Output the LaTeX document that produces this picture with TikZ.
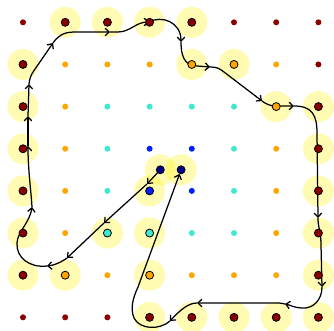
\documentclass[tikz,border=0pt]{standalone}
\usetikzlibrary{arrows.meta}
\definecolor{dred}{RGB}{139,0,0}
\definecolor{dorange}{RGB}{255,165,0}
\definecolor{turq}{RGB}{64,232,208}
\definecolor{dblue}{RGB}{0,30,255}
\definecolor{navyc}{RGB}{0,0,139}
\pgfdeclarelayer{halolayer}
\pgfdeclarelayer{traillayer}
\pgfsetlayers{halolayer,traillayer,main}
\newcommand\mysetcol[2]{\pgfmathtruncatemacro\rr{min(#1,7-#1,#2,7-#2)}\ifcase\rr\def\col{dred}\or\def\col{dorange}\or\def\col{turq}\or\def\col{dblue}\fi}
\begin{document}
\begin{tikzpicture}[x=1pt,y=-1pt,
  halo/.style={circle,fill=yellow,fill opacity=0.3,minimum size=31pt,inner sep=0pt},
  smalldot/.style={circle,fill=#1,minimum size=6pt,inner sep=0pt},
  bigdot/.style={circle,fill=#1,draw=black,line width=0.8pt,minimum size=8pt,inner sep=0pt},
  trail/.style={line width=1.25pt,line cap=round,line join=round,-{Straight Barb[length=4pt,width=7.5pt]}}
]
\useasboundingbox (0,0) rectangle (334,331);
% highlighted grid points
\foreach \i/\j in {1/0,2/0,3/0,4/0,0/1,4/1,5/1,0/2,6/2,7/2,0/3,7/3,0/4,3/4,7/4,0/5,2/5,3/5,7/5,0/6,1/6,3/6,7/6,3/7,4/7,5/7,6/7,7/7}{
  \mysetcol{\i}{\j}
  \node[bigdot=\col] (d\i\j) at (23+42.2*\i,22.3+42.15*\j) {};
}
\node[bigdot=navyc] (s) at (160.3,169.8) {};
\node[bigdot=navyc] (e) at (181.1,169.8) {};
\begin{pgfonlayer}{halolayer}
\foreach \i/\j in {1/0,2/0,3/0,4/0,0/1,4/1,5/1,0/2,6/2,7/2,0/3,7/3,0/4,3/4,7/4,0/5,2/5,3/5,7/5,0/6,1/6,3/6,7/6,3/7,4/7,5/7,6/7,7/7}{
  \node[halo] (h\i\j) at (d\i\j.center) {};
}
\node[halo] (hs) at (s.center) {};
\node[halo] (he) at (e.center) {};
\foreach \i in {0,...,7}{
  \foreach \j in {0,...,7}{
    \mysetcol{\i}{\j}
    \node[smalldot=\col] (g\i\j) at (23+42.2*\i,22.3+42.15*\j) {};
  }
}
\end{pgfonlayer}
% path
\coordinate (a1) at (147,184);
\coordinate (a2) at (104,223);
\coordinate (a3) at (67,258);
\coordinate (a4) at (47,266);
\coordinate (a5) at (32,207);
\coordinate (a6) at (28,146);
\coordinate (a7) at (28,116);
\coordinate (a8) at (29,84);
\coordinate (a9) at (53,43);
\coordinate (a10) at (110,32);
\coordinate (a11) at (149,22);
\coordinate (a12) at (181,42);
\coordinate (a13) at (210,67);
\coordinate (a14) at (262,101);
\coordinate (a15) at (294,106);
\coordinate (a16) at (318,218);
\coordinate (a17) at (322,287);
\coordinate (a18) at (285,304);
\coordinate (a19) at (197,303);
\coordinate (a20) at (170,321);
\begin{pgfonlayer}{traillayer}
\draw[trail] (s) -- (a1);
\draw[trail] (a1) -- (a2);
\draw[trail] (a2) -- (a3);
\draw[trail] (a3) .. controls (60,263) and (53,265.5) .. (a4);
\draw[trail] (a4) .. controls (30,268) and (16,258) .. (17,243) .. controls (17,233) and (30,222) .. (a5);
\draw[trail] (a5) .. controls (31,190) and (28,170) .. (a6);
\draw[trail] (a6) -- (a7);
\draw[trail] (a7) -- (a8);
\draw[trail] (a8) .. controls (29.5,79) and (31,75) .. (33,72) -- (a9);
\draw[trail] (a9) .. controls (58,36) and (63,32) .. (75,32) -- (a10);
\draw[trail] (a10) -- (118,32) .. controls (130,32) and (136,22) .. (a11);
\draw[trail] (a11) .. controls (162,15) and (181,22) .. (a12);
\draw[trail] (a12) .. controls (181,55) and (184,66) .. (197,66) -- (a13);
\draw[trail] (a13) .. controls (216,67) and (219,68) .. (224,72) -- (a14);
\draw[trail] (a14) .. controls (266,104) and (270,106) .. (276,106) -- (a15);
\draw[trail] (a15) .. controls (312,106) and (317,115) .. (317,133) -- (a16);
\draw[trail] (a16) .. controls (318,228) and (321,232) .. (321,245) -- (a17);
\draw[trail] (a17) .. controls (322,300) and (313,309) .. (302,308) .. controls (295,308) and (290,305) .. (a18);
\draw[trail] (a18) .. controls (281,303) and (279,303) .. (275,303) -- (a19);
\draw[trail] (a19) .. controls (189,303) and (181,309) .. (a20);
\draw[trail] (a20) .. controls (160,330) and (140,330) .. (134,318) .. controls (130,308) and (133,298) .. (138,287) -- (e);
\end{pgfonlayer}
\end{tikzpicture}
\end{document}
